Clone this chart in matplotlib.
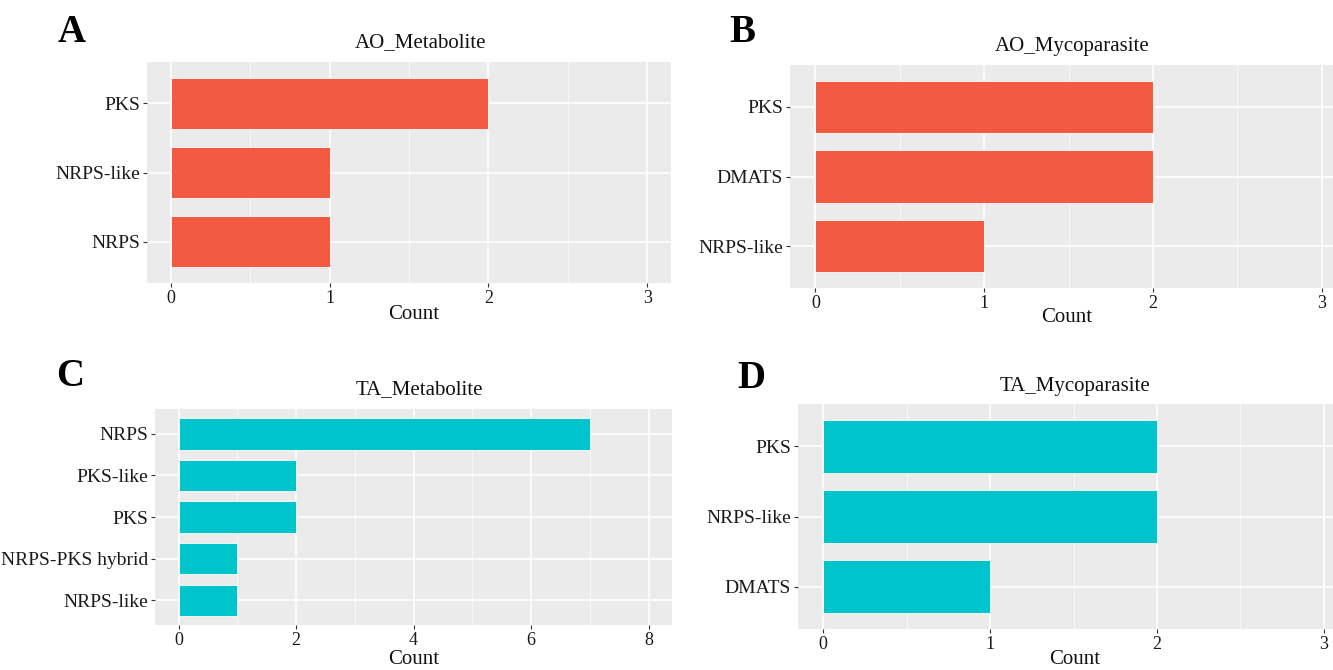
import matplotlib
matplotlib.use("Agg")
import matplotlib.pyplot as plt
import numpy as np

# ---- data ----
a_cats = ["NRPS", "NRPS-like", "PKS"]
a_vals = [1, 1, 2]
b_cats = ["NRPS-like", "DMATS", "PKS"]
b_vals = [1, 2, 2]
c_cats = ["NRPS-like", "NRPS-PKS hybrid", "PKS", "PKS-like", "NRPS"]
c_vals = [1, 1, 2, 2, 7]
d_cats = ["DMATS", "NRPS-like", "PKS"]
d_vals = [1, 2, 2]

titles = ["AO_Metabolite", "AO_Mycoparasite", "TA_Metabolite", "TA_Mycoparasite"]
letters = ["A", "B", "C", "D"]
xlabel = "Count"

RED = "#F25B42"
CYAN = "#00C4CC"

W, H = 1333, 670
plt.rcParams['font.family'] = ['Liberation Serif', 'DejaVu Serif']
fig = plt.figure(figsize=(W / 100, H / 100), dpi=100)
fig.patch.set_facecolor("white")


def ax_px(l, r, t, b):
    return fig.add_axes([l / W, 1 - b / H, (r - l) / W, (b - t) / H])


panels = [
    dict(cats=a_cats, vals=a_vals, color=RED, box=(147, 671, 62, 283),
         xlim=(-0.15, 3.15), xt=[0, 1, 2, 3], minor=[0.5, 1.5, 2.5],
         title_xy=(421, 43), count_xy=(414, 314), letter_xy=(72, 32)),
    dict(cats=b_cats, vals=b_vals, color=RED, box=(790, 1347, 65, 288),
         xlim=(-0.15, 3.15), xt=[0, 1, 2, 3], minor=[0.5, 1.5, 2.5],
         title_xy=(1072, 46), count_xy=(1067, 318), letter_xy=(742, 32)),
    dict(cats=c_cats, vals=c_vals, color=CYAN, box=(155, 672, 409, 625),
         xlim=(-0.4, 8.4), xt=[0, 2, 4, 6, 8], minor=[1, 3, 5, 7],
         title_xy=(419, 390), count_xy=(414, 660), letter_xy=(70, 377)),
    dict(cats=d_cats, vals=d_vals, color=CYAN, box=(798, 1349, 404, 629),
         xlim=(-0.15, 3.15), xt=[0, 1, 2, 3], minor=[0.5, 1.5, 2.5],
         title_xy=(1075, 387), count_xy=(1075, 660), letter_xy=(751, 378)),
]

for i, p in enumerate(panels):
    ax = ax_px(*p["box"])
    ax.set_facecolor("#EBEBEB")
    ax.set_axisbelow(True)
    y = np.arange(len(p["cats"]))
    ax.barh(y, p["vals"], height=0.75, color=p["color"],
            edgecolor="#FFFFFF", linewidth=0.6, zorder=3)
    ax.set_xlim(*p["xlim"])
    ax.set_ylim(-0.6, len(p["cats"]) - 0.4)
    ax.set_xticks(p["xt"])
    ax.set_xticks(p["minor"], minor=True)
    ax.set_yticks(y)
    ax.set_yticklabels(p["cats"])
    ax.grid(which="major", color="white", linewidth=1.2, zorder=0)
    ax.grid(which="minor", axis="x", color="white", linewidth=0.5, zorder=0)
    for s in ax.spines.values():
        s.set_visible(False)
    ax.tick_params(axis="both", which="major", length=3, width=0.8,
                   color="#333333", labelsize=14, labelcolor="#1a1a1a", pad=2)
    ax.tick_params(axis="x", labelsize=13)
    ax.tick_params(which="minor", length=0)
    fig.text(p["title_xy"][0] / W, 1 - p["title_xy"][1] / H, titles[i],
             ha="center", va="center", fontsize=15, color="#111111")
    fig.text(p["count_xy"][0] / W, 1 - p["count_xy"][1] / H, xlabel,
             ha="center", va="center", fontsize=15, color="#111111")
    fig.text(p["letter_xy"][0] / W, 1 - p["letter_xy"][1] / H, letters[i],
             ha="center", va="center", fontsize=28, fontweight="bold",
             color="black")

fig.savefig("out.png", dpi=100, facecolor="white")
